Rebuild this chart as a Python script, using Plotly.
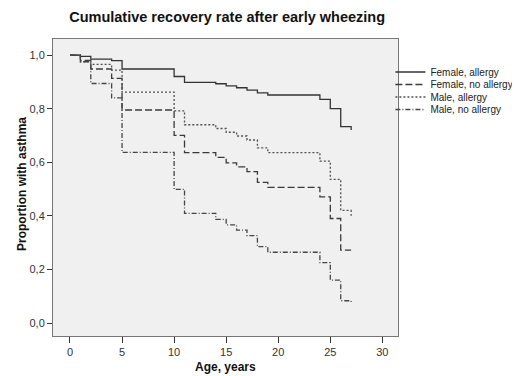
import plotly.graph_objects as go

# Data (Kaplan-Meier style step curves)
times = [0, 1, 2, 4, 5, 10, 11, 14, 15, 16, 17, 18, 19, 24, 25, 26, 27]
female_allergy = [1.0, 0.995, 0.985, 0.979, 0.948, 0.92, 0.898, 0.893, 0.885, 0.878,
                  0.869, 0.859, 0.851, 0.835, 0.80, 0.733, 0.72]
female_no_allergy = [1.0, 0.98, 0.948, 0.913, 0.795, 0.70, 0.636, 0.618, 0.598, 0.583,
                     0.565, 0.525, 0.506, 0.471, 0.39, 0.272, 0.272]
male_allergy = [1.0, 0.975, 0.965, 0.944, 0.862, 0.792, 0.74, 0.726, 0.712, 0.698,
                0.683, 0.654, 0.636, 0.604, 0.536, 0.42, 0.40]
male_no_allergy = [1.0, 0.975, 0.894, 0.84, 0.637, 0.499, 0.409, 0.387, 0.366, 0.347,
                   0.326, 0.285, 0.264, 0.225, 0.16, 0.083, 0.075]

series_names = ["Female, allergy", "Female, no allergy", "Male, allergy", "Male, no allergy"]
series_values = [female_allergy, female_no_allergy, male_allergy, male_no_allergy]
dashes = ["solid", "7px,3px", "2px,2px", "5px,2px,1px,2px"]
colors = ["#333333", "#3a3a3a", "#505050", "#454545"]

x_ticks = [0, 5, 10, 15, 20, 25, 30]
y_ticks = [0.0, 0.2, 0.4, 0.6, 0.8, 1.0]

FONT = "Liberation Sans, Arial, sans-serif"

# The page body has an 8px default margin, so the figure is 512x368 and
# its plot area sits at page pixels: left 53, right 398, top 39, bottom 336.
OFF = 8
W, H = 520 - OFF, 376 - OFF
ML, MT, PW, PH = 53 - OFF, 39 - OFF, 345, 297
PLOT_TOP, PLOT_BOTTOM = 39, 336  # page pixels
legend_rows_px = [72, 84.5, 97, 109.5]
legend_ids = ["legend", "legend2", "legend3", "legend4"]

fig = go.Figure()
for name, vals, dash, col, lid in zip(series_names, series_values, dashes, colors, legend_ids):
    fig.add_trace(go.Scatter(
        x=times, y=vals, name=name, mode="lines", line_shape="hv",
        line=dict(color=col, width=1.3, dash=dash), legend=lid,
    ))

legend_layout = {}
for lid, row in zip(legend_ids, legend_rows_px):
    legend_layout[lid] = dict(
        x=0.978, xanchor="left",
        y=(PLOT_BOTTOM - row) / PH, yanchor="middle",
        bgcolor="rgba(0,0,0,0)", borderwidth=0,
        font=dict(family=FONT, size=10, color="#222222"),
        itemwidth=30,
    )

fig.update_layout(
    width=W, height=H,
    margin=dict(l=ML, r=W - ML - PW, t=MT, b=H - MT - PH, autoexpand=False),
    paper_bgcolor="white",
    plot_bgcolor="#f0f0f0",
    separators=",.",
    font=dict(family=FONT, size=11, color="#333333"),
    title=dict(text="<b>Cumulative recovery rate after early wheezing</b>",
               x=0.428, xanchor="center", y=1 - (17 - OFF) / H, yanchor="middle",
               font=dict(family=FONT, size=14.5, color="#111111")),
    showlegend=True,
    **legend_layout,
    annotations=[
        dict(text="<b>Age, years</b>", xref="paper", yref="paper",
             x=0.5, xanchor="center",
             y=-(367 - PLOT_BOTTOM) / PH, yanchor="middle",
             showarrow=False, font=dict(family=FONT, size=12, color="#111111")),
        dict(text="<b>Proportion with asthma</b>", xref="paper", yref="paper",
             x=(22 - 53) / PW, xanchor="center",
             y=(PLOT_BOTTOM - 184) / PH, yanchor="middle", textangle=-90,
             showarrow=False, font=dict(family=FONT, size=12, color="#111111")),
    ],
)

fig.update_xaxes(
    range=[-1.63, 31.5], tickvals=x_ticks, ticktext=[str(v) for v in x_ticks],
    showgrid=False, zeroline=False,
    showline=True, linecolor="#777777", linewidth=1, mirror=True,
    ticks="outside", ticklen=6, tickcolor="#333333", tickwidth=1,
    tickfont=dict(family=FONT, size=11, color="#333333"),
    automargin=False,
)
fig.update_yaxes(
    range=[-0.0485, 1.06], tickvals=y_ticks, tickformat=".1f",
    showgrid=False, zeroline=False,
    showline=True, linecolor="#777777", linewidth=1, mirror=True,
    ticks="outside", ticklen=5, tickcolor="#333333", tickwidth=1,
    tickfont=dict(family=FONT, size=11, color="#333333"),
    automargin=False,
)

fig.write_html("out.html")
